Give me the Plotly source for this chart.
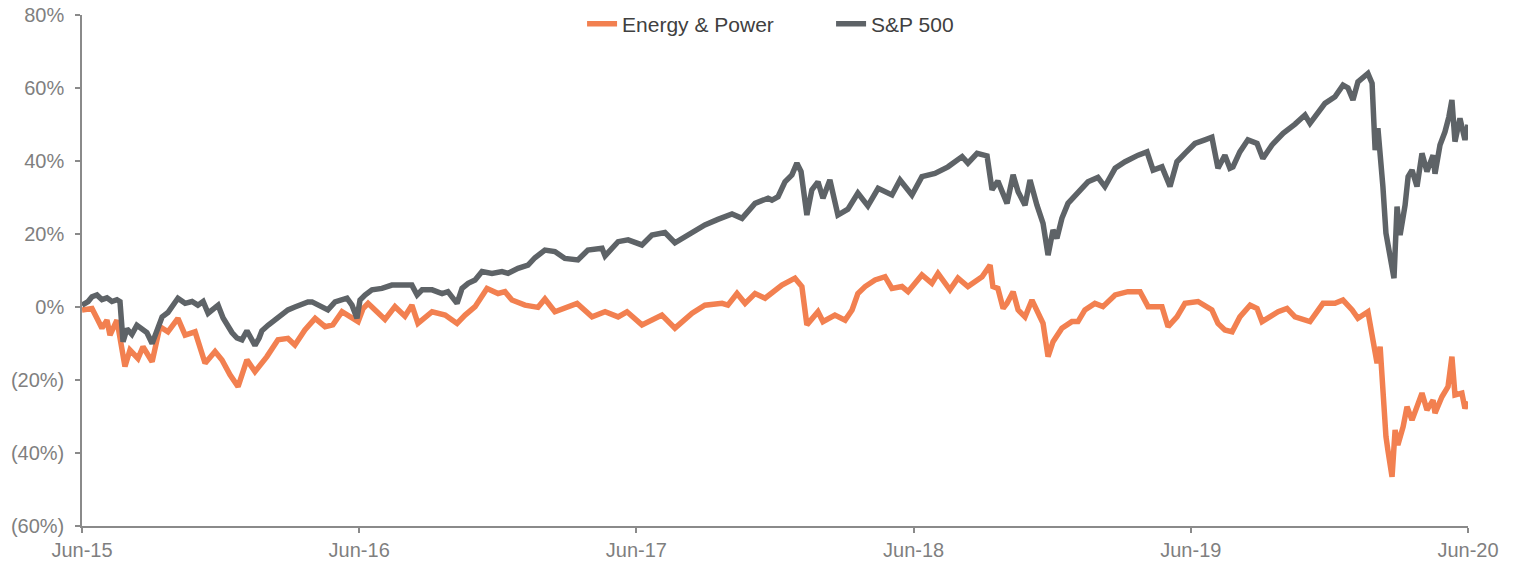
import plotly.graph_objects as go

# ---- data (decimal years, % return) ----
sp_t = [2015.500, 2015.522, 2015.536, 2015.554, 2015.572, 2015.590, 2015.608, 2015.626, 2015.637, 2015.648,
        2015.662, 2015.680, 2015.698, 2015.720, 2015.734, 2015.753, 2015.771, 2015.789, 2015.810, 2015.836,
        2015.846, 2015.872, 2015.897, 2015.918, 2015.937, 2015.955, 2015.973, 2015.991, 2016.009, 2016.027,
        2016.041, 2016.059, 2016.077, 2016.095, 2016.110, 2016.124, 2016.139, 2016.149, 2016.171, 2016.196,
        2016.218, 2016.243, 2016.268, 2016.294, 2016.315, 2016.330, 2016.351, 2016.387, 2016.413, 2016.438,
        2016.456, 2016.474, 2016.492, 2016.503, 2016.521, 2016.546, 2016.582, 2016.618, 2016.654, 2016.690,
        2016.709, 2016.727, 2016.763, 2016.799, 2016.820, 2016.853, 2016.871, 2016.893, 2016.918, 2016.943,
        2016.979, 2017.015, 2017.037, 2017.073, 2017.109, 2017.134, 2017.170, 2017.206, 2017.242, 2017.289,
        2017.325, 2017.376, 2017.387, 2017.434, 2017.470, 2017.520, 2017.556, 2017.603, 2017.639, 2017.701,
        2017.747, 2017.794, 2017.845, 2017.881, 2017.928, 2017.975, 2017.989, 2018.011, 2018.036, 2018.061,
        2018.079, 2018.094, 2018.115, 2018.133, 2018.155, 2018.173, 2018.198, 2018.227, 2018.263, 2018.299,
        2018.335, 2018.372, 2018.422, 2018.451, 2018.494, 2018.530, 2018.577, 2018.624, 2018.675, 2018.696,
        2018.729, 2018.765, 2018.783, 2018.804, 2018.837, 2018.859, 2018.877, 2018.902, 2018.920, 2018.945,
        2018.967, 2018.985, 2019.003, 2019.017, 2019.035, 2019.057, 2019.093, 2019.129, 2019.165, 2019.190,
        2019.227, 2019.263, 2019.310, 2019.342, 2019.364, 2019.396, 2019.425, 2019.450, 2019.479, 2019.515,
        2019.551, 2019.576, 2019.598, 2019.623, 2019.641, 2019.652, 2019.677, 2019.706, 2019.739, 2019.760,
        2019.793, 2019.833, 2019.876, 2019.912, 2019.930, 2019.959, 2019.984, 2020.020, 2020.049, 2020.067,
        2020.085, 2020.103, 2020.139, 2020.154, 2020.165, 2020.175, 2020.186, 2020.193, 2020.204, 2020.215,
        2020.226, 2020.233, 2020.244, 2020.255, 2020.273, 2020.284, 2020.298, 2020.316, 2020.334, 2020.352,
        2020.374, 2020.381, 2020.399, 2020.417, 2020.431, 2020.442, 2020.453, 2020.471, 2020.489, 2020.500]
sp_v = [0.5, 1.5, 2.8, 3.3, 2.0, 2.5, 1.5, 2.0, 1.5, -9.5,
        -6.0, -7.5, -5.0, -6.0, -7.0, -10.0, -6.0, -2.7, -1.5, 1.4,
        2.4, 1.0, 1.5, 0.5, 1.5, -1.7, -0.5, 0.5, -3.0, -5.5,
        -7.0, -8.5, -9.0, -6.5, -8.5, -10.5, -8.5, -6.5, -5.0, -3.6,
        -2.0, -0.8, 0.0, 1.0, 1.4, 1.4, 0.5, -0.8, 1.4, 1.9,
        2.4, 0.5, -3.1, 1.9, 3.3, 4.7, 5.1, 6.0, 6.0, 6.0,
        3.3, 4.7, 4.7, 3.7, 4.2, 1.0, 5.1, 6.5, 7.4, 9.7,
        9.2, 9.7, 9.2, 10.6, 11.5, 13.5, 15.6, 15.2, 13.3, 12.9,
        15.6, 16.1, 14.0, 17.9, 18.4, 17.0, 19.7, 20.4, 17.6, 20.6,
        22.5, 24.0, 25.5, 24.3, 28.4, 29.8, 29.3, 30.2, 34.3, 36.2,
        39.4, 37.1, 25.2, 32.1, 34.3, 29.8, 34.8, 25.2, 26.8, 31.2,
        27.7, 32.5, 30.7, 34.8, 30.7, 35.7, 36.6, 38.4, 41.2, 39.4,
        42.1, 41.4, 32.1, 34.5, 28.4, 36.2, 31.6, 27.9, 34.8, 27.9,
        22.9, 14.2, 21.1, 18.8, 24.3, 28.4, 31.2, 34.3, 35.5, 33.0,
        38.0, 39.8, 41.6, 42.5, 37.5, 38.4, 33.0, 39.8, 42.1, 44.8,
        45.8, 46.5, 38.0, 41.6, 38.0, 38.4, 42.5, 45.8, 44.8, 40.7,
        44.4, 47.6, 50.1, 52.6, 50.3, 53.1, 55.8, 57.6, 60.8, 60.0,
        56.7, 61.7, 64.0, 61.3, 43.0, 49.0, 40.3, 33.0, 20.2, 15.6,
        10.1, 7.9, 27.5, 19.7, 27.9, 35.7, 37.5, 33.0, 42.1, 37.1,
        41.6, 36.5, 44.4, 48.0, 52.1, 56.7, 45.3, 51.7, 45.8, 49.9]

ep_t = [2015.500, 2015.536, 2015.554, 2015.572, 2015.590, 2015.601, 2015.626, 2015.637, 2015.655, 2015.673,
        2015.702, 2015.720, 2015.753, 2015.781, 2015.810, 2015.846, 2015.872, 2015.908, 2015.944, 2015.980,
        2016.005, 2016.034, 2016.063, 2016.095, 2016.124, 2016.167, 2016.207, 2016.243, 2016.268, 2016.304,
        2016.341, 2016.377, 2016.405, 2016.438, 2016.460, 2016.496, 2016.514, 2016.532, 2016.564, 2016.593,
        2016.629, 2016.665, 2016.690, 2016.712, 2016.763, 2016.810, 2016.853, 2016.882, 2016.918, 2016.961,
        2017.001, 2017.026, 2017.051, 2017.098, 2017.145, 2017.170, 2017.206, 2017.242, 2017.286, 2017.340,
        2017.387, 2017.434, 2017.466, 2017.520, 2017.592, 2017.639, 2017.701, 2017.747, 2017.809, 2017.830,
        2017.863, 2017.892, 2017.928, 2017.964, 2018.000, 2018.025, 2018.072, 2018.097, 2018.115, 2018.137,
        2018.155, 2018.173, 2018.216, 2018.253, 2018.278, 2018.299, 2018.325, 2018.361, 2018.397, 2018.422,
        2018.458, 2018.480, 2018.530, 2018.566, 2018.588, 2018.631, 2018.660, 2018.696, 2018.747, 2018.776,
        2018.786, 2018.804, 2018.823, 2018.837, 2018.859, 2018.877, 2018.902, 2018.927, 2018.949, 2018.967,
        2018.985, 2019.003, 2019.035, 2019.071, 2019.093, 2019.118, 2019.154, 2019.183, 2019.227, 2019.273,
        2019.317, 2019.346, 2019.396, 2019.418, 2019.450, 2019.479, 2019.526, 2019.576, 2019.598, 2019.623,
        2019.649, 2019.677, 2019.714, 2019.739, 2019.757, 2019.786, 2019.815, 2019.847, 2019.876, 2019.930,
        2019.977, 2020.020, 2020.049, 2020.082, 2020.103, 2020.139, 2020.157, 2020.172, 2020.183, 2020.193,
        2020.204, 2020.211, 2020.226, 2020.237, 2020.247, 2020.266, 2020.280, 2020.298, 2020.316, 2020.334,
        2020.352, 2020.374, 2020.381, 2020.406, 2020.428, 2020.442, 2020.453, 2020.478, 2020.489, 2020.500]
ep_v = [-0.8, -0.4, -3.1, -5.8, -3.6, -7.7, -3.6, -9.0, -16.3, -11.8,
        -14.1, -10.9, -15.0, -5.4, -6.8, -3.1, -7.7, -6.8, -15.4, -12.2,
        -14.5, -18.6, -21.8, -14.5, -17.7, -13.6, -9.0, -8.6, -10.4, -6.3,
        -3.1, -5.4, -4.9, -1.3, -2.2, -4.0, -0.4, 1.0, -1.3, -3.4,
        0.1, -2.5, 0.5, -4.5, -1.3, -2.2, -4.5, -2.2, 0.1, 5.1,
        3.7, 4.2, 1.9, 0.5, -0.1, 2.2, -1.3, -0.4, 1.0, -2.7,
        -1.3, -2.7, -1.3, -4.9, -2.2, -5.8, -1.7, 0.5, 1.0, 0.5,
        3.7, 1.0, 3.7, 2.4, 4.7, 6.0, 7.9, 5.6, -4.9, -2.7,
        -1.3, -4.0, -2.2, -3.6, -0.8, 3.7, 5.6, 7.4, 8.3, 5.1,
        5.6, 4.2, 8.8, 6.5, 9.2, 4.7, 7.9, 5.6, 8.3, 11.5,
        5.6, 5.1, -0.4, 1.0, 4.2, -0.8, -2.7, 1.9, -1.7, -4.5,
        -13.6, -9.5, -5.8, -4.0, -4.0, -0.8, 1.0, 0.1, 3.3, 4.2,
        4.2, 0.1, 0.1, -5.4, -2.7, 1.0, 1.5, -0.8, -4.5, -6.3,
        -6.8, -2.7, 0.5, -0.4, -4.0, -2.7, -1.3, -0.4, -2.7, -4.0,
        1.0, 1.0, 1.9, -0.8, -3.1, -1.3, -9.0, -15.4, -10.9, -23.6,
        -35.5, -39.2, -46.5, -33.7, -37.8, -32.8, -27.3, -31.0, -27.3, -23.6,
        -28.2, -25.5, -29.1, -24.6, -21.8, -13.6, -24.1, -23.6, -27.8, -25.9]

x_tickvals = [2015.5, 2016.5, 2017.5, 2018.5, 2019.5, 2020.5]
x_ticktext = ["Jun-15", "Jun-16", "Jun-17", "Jun-18", "Jun-19", "Jun-20"]
y_tickvals = [-60, -40, -20, 0, 20, 40, 60, 80]
y_ticktext = ["(60%)", "(40%)", "(20%)", "0%", "20%", "40%", "60%", "80%"]

ORANGE = "#F28050"
GRAY = "#5E6367"
AXIS = "#8A8A8A"
TICKFONT = "#7F7F7F"

fig = go.Figure()
fig.add_trace(go.Scatter(x=ep_t, y=ep_v, mode="lines", name="Energy & Power",
                         line=dict(color=ORANGE, width=5.5)))
fig.add_trace(go.Scatter(x=sp_t, y=sp_v, mode="lines", name="S&P 500",
                         line=dict(color=GRAY, width=5.5)))

fig.update_layout(
    width=1515, height=564,
    margin=dict(l=82, r=47, t=15, b=38, autoexpand=False),
    paper_bgcolor="white", plot_bgcolor="white",
    font=dict(family="Liberation Sans, Arial, sans-serif", size=20, color=TICKFONT),
    showlegend=True,
    legend=dict(orientation="h", x=0.3608, xanchor="left", y=0.982, yanchor="middle",
                font=dict(size=21, color="#404040"), bgcolor="rgba(0,0,0,0)",
                entrywidth=204, entrywidthmode="pixels", tracegroupgap=0),
    xaxis=dict(range=[2015.5, 2020.5], tickvals=x_tickvals, ticktext=x_ticktext,
               automargin=False,
               showgrid=False, zeroline=False, showline=True, linecolor=AXIS, linewidth=1.5,
               ticks="outside", ticklen=5, tickcolor=AXIS, tickwidth=1.5,
               tickfont=dict(size=20, color=TICKFONT)),
    yaxis=dict(range=[-60, 80], tickvals=y_tickvals, ticktext=y_ticktext,
               automargin=False, ticklabelstandoff=7,
               showgrid=False, zeroline=False, showline=True, linecolor=AXIS, linewidth=1.5,
               ticks="outside", ticklen=5, tickcolor=AXIS, tickwidth=1.5,
               tickfont=dict(size=20, color=TICKFONT)),
)

# remove the page's default 8px body margin so the 1515x564 figure fills the window
fig.write_html("out.html", config={"displayModeBar": False},
               post_script="document.body.style.margin='0';")
